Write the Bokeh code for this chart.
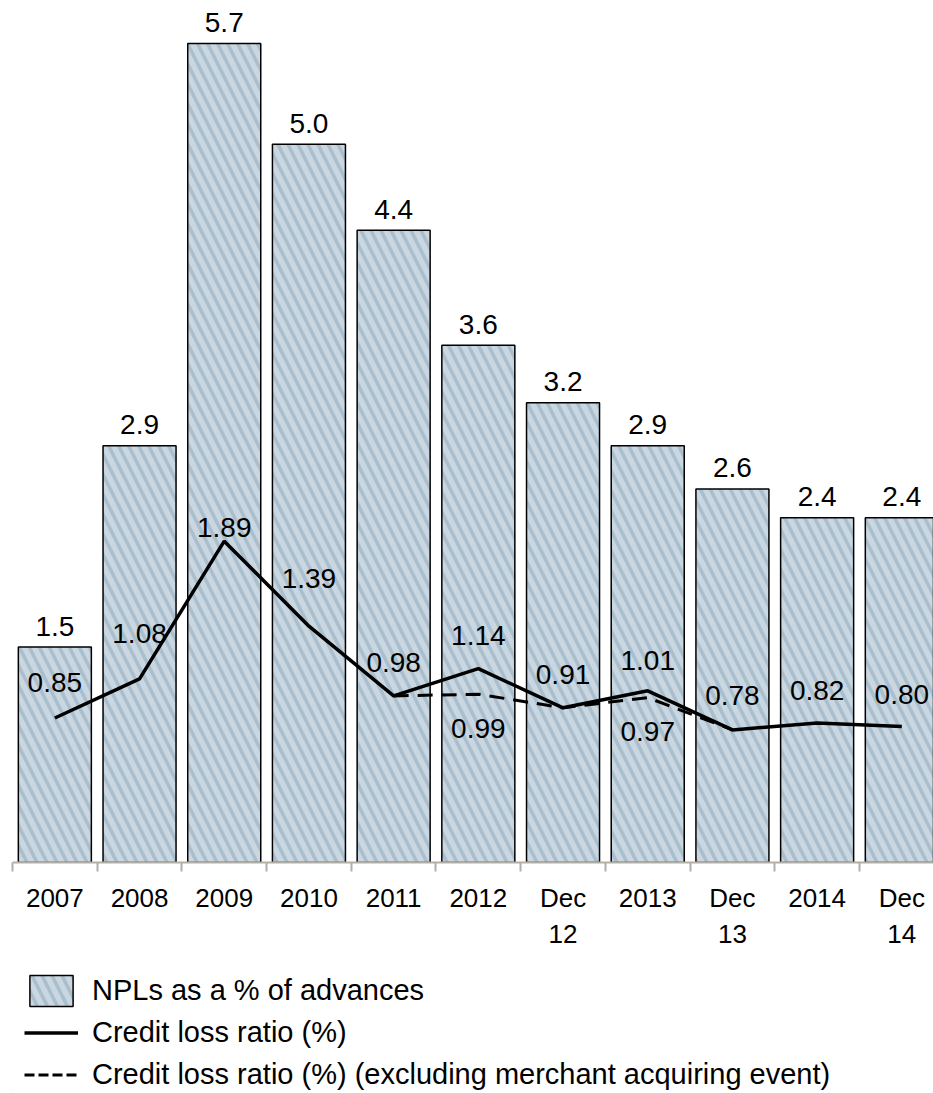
from bokeh.plotting import figure
from bokeh.layouts import column
from bokeh.models import Range1d, LinearAxis, FixedTicker, Legend, LegendItem
from bokeh.core.properties import value
from bokeh.embed import file_html
from bokeh.resources import INLINE

# ---- data ----
categories = ["2007", "2008", "2009", "2010", "2011", "2012", "Dec\n12",
              "2013", "Dec\n13", "2014", "Dec\n14"]
npl_pct = [1.5, 2.9, 5.7, 5.0, 4.4, 3.6, 3.2, 2.9, 2.6, 2.4, 2.4]
credit_loss = [0.85, 1.08, 1.89, 1.39, 0.98, 1.14, 0.91, 1.01, 0.78, 0.82, 0.80]
excl_categories = ["2011", "2012", "Dec\n12", "2013", "Dec\n13"]
credit_loss_excl = [0.98, 0.99, 0.91, 0.97, 0.78]
excl_labelled = ["2012", "2013"]
legend_labels = ["NPLs as a % of advances",
                 "Credit loss ratio (%)",
                 "Credit loss ratio (%) (excluding merchant acquiring event)"]

# ---- styling (label offsets in screen pixels, negative = up) ----
line_label_dy = [-36, -45, -14, -48, -33, -33, -33, -30, -34, -33, -32]
excl_label_dy = 34
bar_label_dy = -21
FONT = "Liberation Sans"
TXT = "#000000"
AXIS_COL = "#b4afa5"
BAR_STYLE = dict(fill_color="#cad7e1", line_color="black", line_width=1.5,
                 hatch_pattern="\\", hatch_color="#a9bfce", hatch_scale=20, hatch_weight=3.5)

pos = {c: i for i, c in enumerate(categories)}
xs = list(range(len(categories)))

p = figure(frame_width=921, frame_height=862,
           min_border_left=12, min_border_right=0, min_border_top=0, min_border_bottom=0,
           x_range=Range1d(-0.5, 10.374), y_range=Range1d(0, 6.0),
           x_axis_location=None, y_axis_location=None,
           toolbar_location=None, output_backend="svg",
           outline_line_color=None, background_fill_color="white", border_fill_color="white")
p.grid.visible = False
p.extra_y_ranges = {"line": Range1d(0, 862 / 170.0)}

p.vbar(x=xs, top=npl_pct, bottom=0, width=0.862, **BAR_STYLE)

p.text(x=xs, y=npl_pct, text=[f"{v:.1f}" for v in npl_pct],
       text_align="center", text_baseline="middle", y_offset=bar_label_dy,
       text_font=value(FONT), text_font_size="28px", text_color=TXT)

excl_x = [pos[c] for c in excl_categories]
p.line(x=excl_x, y=credit_loss_excl, y_range_name="line",
       line_color="black", line_width=3, line_dash="15 9")
p.line(x=xs, y=credit_loss, y_range_name="line", line_color="black", line_width=3.5)

p.text(x=xs, y=credit_loss, text=[f"{v:.2f}" for v in credit_loss],
       y_offset=line_label_dy, y_range_name="line",
       text_align="center", text_baseline="middle",
       text_font=value(FONT), text_font_size="28px", text_color=TXT)

lab_x = [pos[c] for c in excl_labelled]
lab_y = [credit_loss_excl[excl_categories.index(c)] for c in excl_labelled]
p.text(x=lab_x, y=lab_y, text=[f"{v:.2f}" for v in lab_y],
       y_offset=excl_label_dy, y_range_name="line",
       text_align="center", text_baseline="middle",
       text_font=value(FONT), text_font_size="28px", text_color=TXT)

ax = LinearAxis(
    ticker=FixedTicker(ticks=xs, minor_ticks=[i - 0.5 for i in range(len(categories) + 1)]),
    major_label_overrides={i: c for i, c in enumerate(categories)},
    axis_line_color=AXIS_COL, axis_line_width=2,
    major_tick_line_color=None, major_tick_out=0, major_tick_in=0,
    minor_tick_line_color=AXIS_COL, minor_tick_line_width=2, minor_tick_out=9, minor_tick_in=0,
    major_label_standoff=11, major_label_text_font=FONT,
    major_label_text_font_size="26px", major_label_text_color=TXT)
p.add_layout(ax, "below")

# ---- legend strip below the chart (key samples sit outside its visible ranges) ----
pl = figure(width=933, height=140, min_border=0, min_border_top=8,
            x_range=Range1d(0, 1), y_range=Range1d(0, 1),
            x_axis_location=None, y_axis_location=None,
            toolbar_location=None, output_backend="svg",
            outline_line_color=None, background_fill_color="white", border_fill_color="white")
pl.grid.visible = False
k_bar = pl.vbar(x=[-5], top=[-5], bottom=-6, width=0.5, **BAR_STYLE)
k_solid = pl.line(x=[-5, -4], y=[-5, -5], line_color="black", line_width=3.5)
k_dash = pl.line(x=[-5, -4], y=[-5, -5], line_color="black", line_width=3, line_dash="10 4")

legend = Legend(items=[
    LegendItem(label=legend_labels[0], renderers=[k_bar]),
    LegendItem(label=legend_labels[1], renderers=[k_solid]),
    LegendItem(label=legend_labels[2], renderers=[k_dash]),
], location="top_left", orientation="vertical", glyph_width=54, glyph_height=39,
    spacing=3, padding=6, margin=12, label_standoff=14,
    label_text_font=FONT, label_text_font_size="29px", label_text_color=TXT,
    border_line_color=None, background_fill_alpha=0)
pl.add_layout(legend, "center")

layout = column(p, pl, spacing=0)
open("out.html", "w").write(file_html(layout, INLINE))
